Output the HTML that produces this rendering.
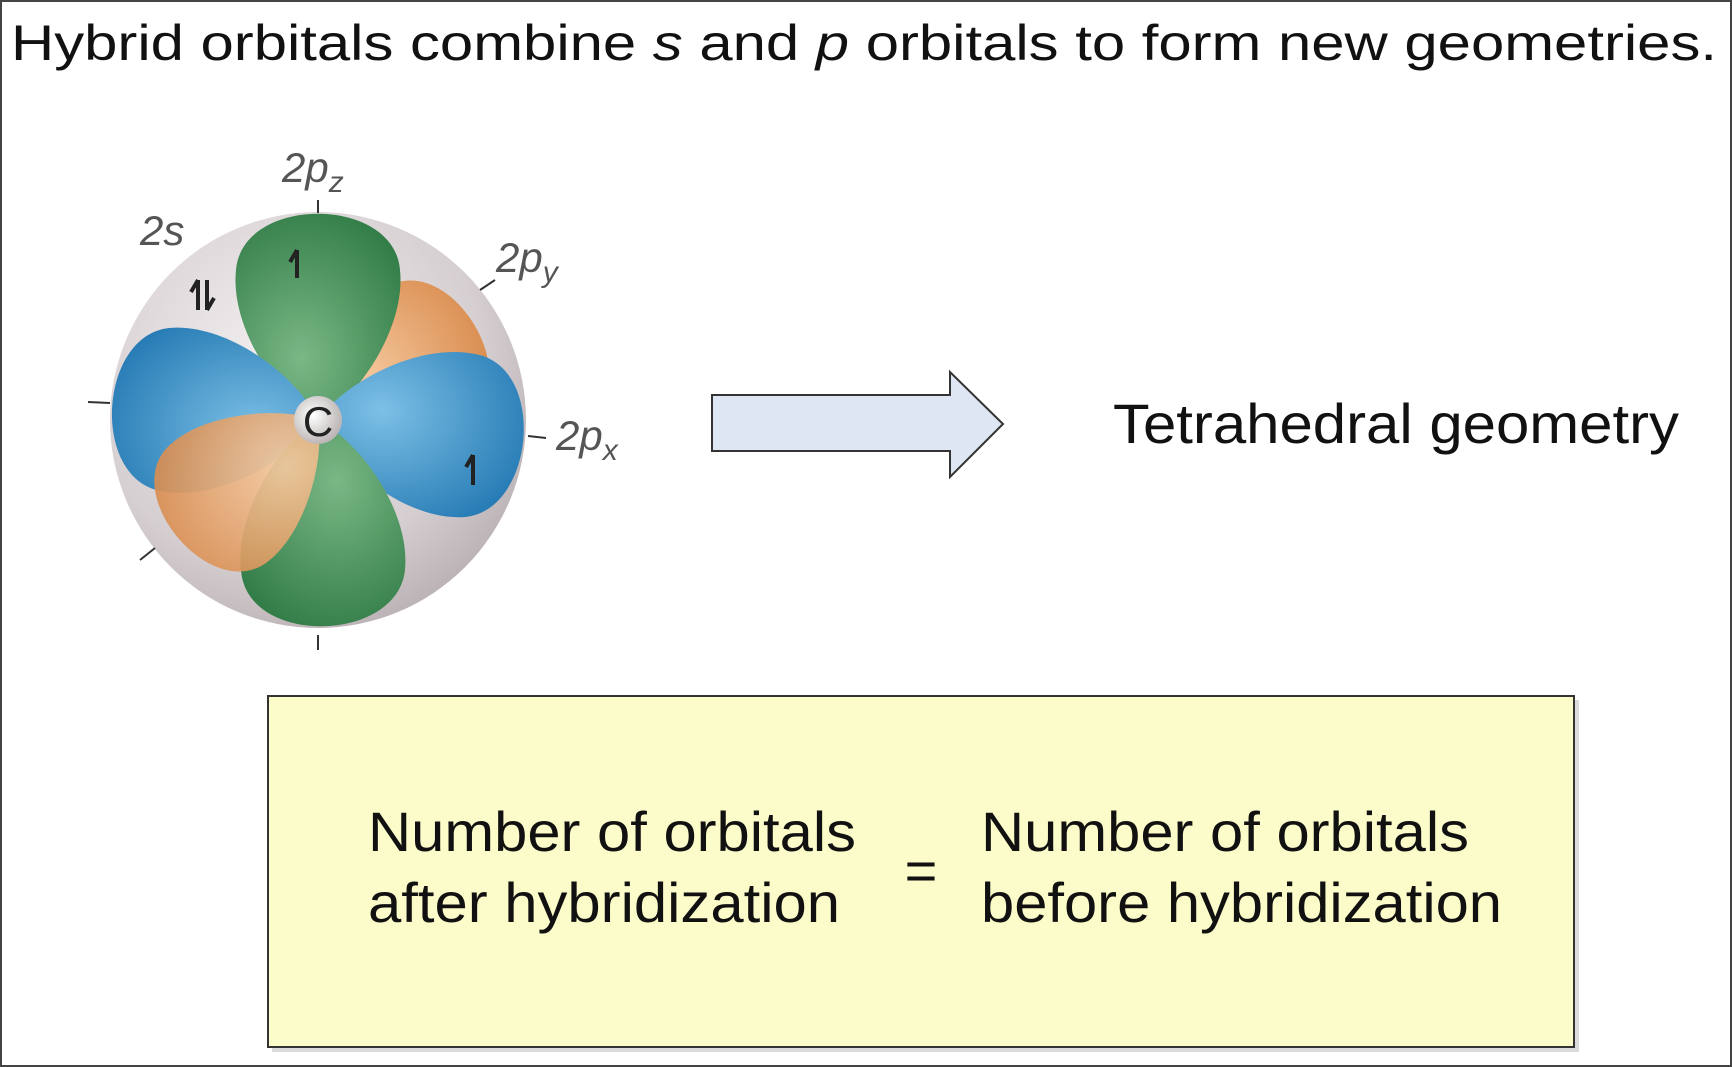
<!DOCTYPE html>
<html><head><meta charset="utf-8"><style>
html,body{margin:0;padding:0;background:#fff;}
svg{display:block;}
text{font-family:"Liberation Sans",sans-serif;}
</style></head><body>
<svg width="1732" height="1067" viewBox="0 0 1732 1067">
<defs>
<radialGradient id="sph" cx="0.4" cy="0.35" r="0.7"><stop offset="0" stop-color="#f2eeef"/><stop offset="0.7" stop-color="#d6cfd1"/><stop offset="1" stop-color="#b9b0b3"/></radialGradient>
<radialGradient id="gr" cx="0.4" cy="0.7" r="0.8"><stop offset="0" stop-color="#7ab886"/><stop offset="1" stop-color="#2f7a45"/></radialGradient>
<radialGradient id="bl" cx="0.4" cy="0.7" r="0.8"><stop offset="0" stop-color="#7cc0e6"/><stop offset="1" stop-color="#2479b3"/></radialGradient>
<radialGradient id="or" cx="0.4" cy="0.7" r="0.8"><stop offset="0" stop-color="#f6caa0"/><stop offset="1" stop-color="#d88a4c"/></radialGradient>
<radialGradient id="cc" cx="0.4" cy="0.4" r="0.6"><stop offset="0" stop-color="#ffffff"/><stop offset="1" stop-color="#bdb6b6"/></radialGradient>
<path id="lobe" d="M0 0 C -40 -22 -88 -92 -82 -150 C -76 -225 76 -225 82 -150 C 88 -92 40 -22 0 0 Z"/>
<path id="lobeS" d="M0 0 C -35 -20 -80 -84 -76 -132 C -70 -200 70 -200 76 -132 C 80 -84 35 -20 0 0 Z"/>
</defs>
<rect x="1" y="1" width="1730" height="1065" fill="#fff" stroke="#444" stroke-width="2"/>
<text x="11" y="60" font-size="50" fill="#111" textLength="1706" lengthAdjust="spacingAndGlyphs">Hybrid orbitals combine <tspan font-style="italic">s</tspan> and <tspan font-style="italic">p</tspan> orbitals to form new geometries.</text>

<g>
<circle cx="318" cy="420" r="208" fill="url(#sph)"/>
<g stroke="#333" stroke-width="2">
<line x1="318" y1="200" x2="318" y2="213"/><line x1="318" y1="635" x2="318" y2="650"/>
<line x1="88" y1="402" x2="110" y2="403"/><line x1="528" y1="436" x2="546" y2="438"/>
<line x1="140" y1="560" x2="155" y2="548"/><line x1="480" y1="290" x2="495" y2="280"/>
</g>
<use href="#lobeS" transform="translate(318,420) rotate(58)" fill="url(#or)"/>
<use href="#lobe" transform="translate(318,420)" fill="url(#gr)"/>
<use href="#lobe" transform="translate(318,420) rotate(-86)" fill="url(#bl)"/>
<use href="#lobe" transform="translate(318,420) rotate(96)" fill="url(#bl)"/>
<use href="#lobe" transform="translate(318,420) rotate(178)" fill="url(#gr)"/>
<use href="#lobeS" transform="translate(318,420) rotate(-130)" fill="url(#or)" fill-opacity="0.9"/>
<circle cx="318" cy="420" r="24" fill="url(#cc)"/>
<text x="318" y="436" font-size="42" text-anchor="middle" fill="#222">C</text>
<g stroke="#222" stroke-width="4" fill="none">
<path d="M297 250 V278 M297 250 L290 262"/>
<path d="M198 280 V310 M198 280 L191 292"/><path d="M207 280 V310 M207 310 L214 298"/>
<path d="M473 455 V485 M473 455 L466 467"/>
</g>
<text x="282" y="182" font-size="42" font-style="italic" fill="#555">2p<tspan font-size="30" dy="10">z</tspan></text>
<text x="140" y="245" font-size="42" font-style="italic" fill="#555">2s</text>
<text x="496" y="272" font-size="42" font-style="italic" fill="#555">2p<tspan font-size="30" dy="10">y</tspan></text>
<text x="556" y="450" font-size="42" font-style="italic" fill="#555">2p<tspan font-size="30" dy="10">x</tspan></text>
</g>

<path d="M712 395 H950 V372 L1003 424 L950 477 V451 H712 Z" fill="#dde6f2" stroke="#333" stroke-width="2"/>
<text x="1113" y="443" font-size="56" fill="#111" textLength="566" lengthAdjust="spacingAndGlyphs">Tetrahedral geometry</text>

<rect x="272" y="700" width="1307" height="352" fill="#999" opacity="0.35"/>
<rect x="268" y="696" width="1306" height="351" fill="#fcfcca" stroke="#333" stroke-width="2"/>
<text x="368" y="851" font-size="56" fill="#111" textLength="488" lengthAdjust="spacingAndGlyphs">Number of orbitals</text>
<text x="368" y="922" font-size="56" fill="#111" textLength="472" lengthAdjust="spacingAndGlyphs">after hybridization</text>
<text x="921" y="890" font-size="56" text-anchor="middle" fill="#111">=</text>
<text x="981" y="851" font-size="56" fill="#111" textLength="488" lengthAdjust="spacingAndGlyphs">Number of orbitals</text>
<text x="981" y="922" font-size="56" fill="#111" textLength="521" lengthAdjust="spacingAndGlyphs">before hybridization</text>
</svg>
</body></html>
